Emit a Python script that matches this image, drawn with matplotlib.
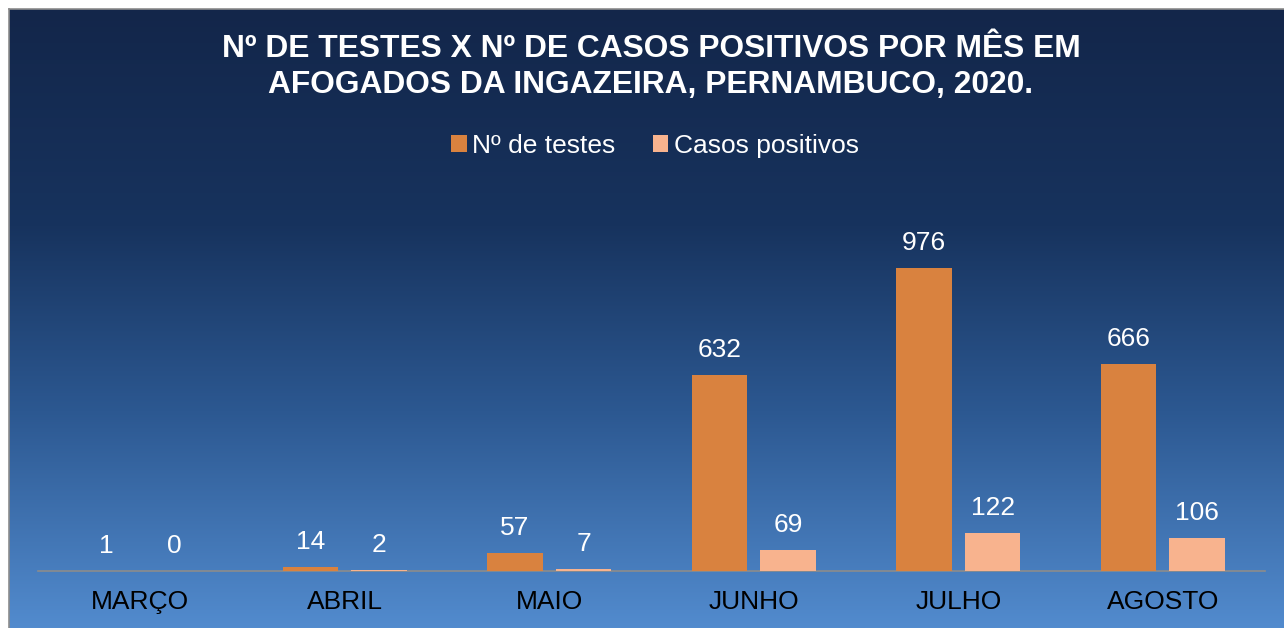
import numpy as np
import matplotlib
matplotlib.use("Agg")
import matplotlib.pyplot as plt
from matplotlib.colors import LinearSegmentedColormap
from matplotlib.patches import Patch
from matplotlib.lines import Line2D

categories = ["MARÇO", "ABRIL", "MAIO", "JUNHO", "JULHO", "AGOSTO"]
testes = [1, 14, 57, 632, 976, 666]
positivos = [0, 2, 7, 69, 122, 106]
series_names = ["Nº de testes", "Casos positivos"]
title = "Nº DE TESTES X Nº DE CASOS POSITIVOS POR MÊS EM\nAFOGADOS DA INGAZEIRA, PERNAMBUCO, 2020."

C_TEST = "#d9823f"
C_POS = "#f8b38e"
FONT = "Liberation Sans"

W, H = 1284, 628
fig = plt.figure(figsize=(W / 100, H / 100), dpi=100, facecolor="white")

# gradient background
bg = fig.add_axes([9 / W, 0, 1 - 9 / W, (H - 9) / H])
bg.set_axis_off()
cmap = LinearSegmentedColormap.from_list(
    "bg", [(0.0, "#13264a"), (0.35, "#17335e"), (0.65, "#2c5891"), (1.0, "#528bce")])
grad = np.linspace(0, 1, 256).reshape(-1, 1)
bg.imshow(grad, aspect="auto", cmap=cmap, extent=[0, 1, 0, 1], origin="upper")
bg.set_xlim(0, 1)
bg.set_ylim(0, 1)

# border lines
fig.add_artist(Line2D([8.5 / W, 8.5 / W], [0, (H - 8.5) / H], color="#8c8c8c", lw=1.2))
fig.add_artist(Line2D([8.5 / W, 1], [(H - 8.5) / H, (H - 8.5) / H], color="#8c8c8c", lw=1.2))

# plot axes: x 38..1265, baseline y=571
ymax = 1200
scale = 0.3105
x0, x1 = 38, 1265
ybase = 571
top_px = ybase - ymax * scale
ax = fig.add_axes([x0 / W, (H - ybase) / H, (x1 - x0) / W, (ybase - top_px) / H])
ax.set_facecolor("none")
ax.patch.set_alpha(0)

x = np.arange(len(categories))
bw = 0.27
off = 0.168
b1 = ax.bar(x - off, testes, bw, color=C_TEST, zorder=3)
b2 = ax.bar(x + off, positivos, bw, color=C_POS, zorder=3)

for bars, vals in ((b1, testes), (b2, positivos)):
    for rect, v in zip(bars, vals):
        ax.annotate(str(v), (rect.get_x() + rect.get_width() / 2, v),
                    xytext=(0, 13), textcoords="offset pixels",
                    ha="center", va="bottom", color="white",
                    fontsize=19, family=FONT)

ax.set_xlim(-0.5, len(categories) - 0.5)
ax.set_ylim(0, ymax)
ax.set_yticks([])
ax.set_xticks(x)
ax.set_xticklabels(categories, fontsize=19, family=FONT, color="black")
ax.tick_params(axis="x", length=0, pad=14)
for s in ("top", "right", "left"):
    ax.spines[s].set_visible(False)
ax.spines["bottom"].set_color("#8c8c8c")
ax.spines["bottom"].set_linewidth(1.2)

fig.text(651 / W, 1 - 67 / H, title, ha="center", va="center", color="white",
         fontsize=22.9, fontweight="bold", family=FONT, linespacing=1.27)

handles = [Patch(facecolor=C_TEST), Patch(facecolor=C_POS)]
fig.legend(handles, series_names, loc="center", bbox_to_anchor=(655 / W, 1 - 146 / H),
           ncol=2, frameon=False, prop={"family": FONT, "size": 19},
           labelcolor="white", handlelength=0.6, handleheight=0.6,
           handletextpad=0.2, columnspacing=1.4)

fig.savefig("out.png", dpi=100, facecolor="white")
